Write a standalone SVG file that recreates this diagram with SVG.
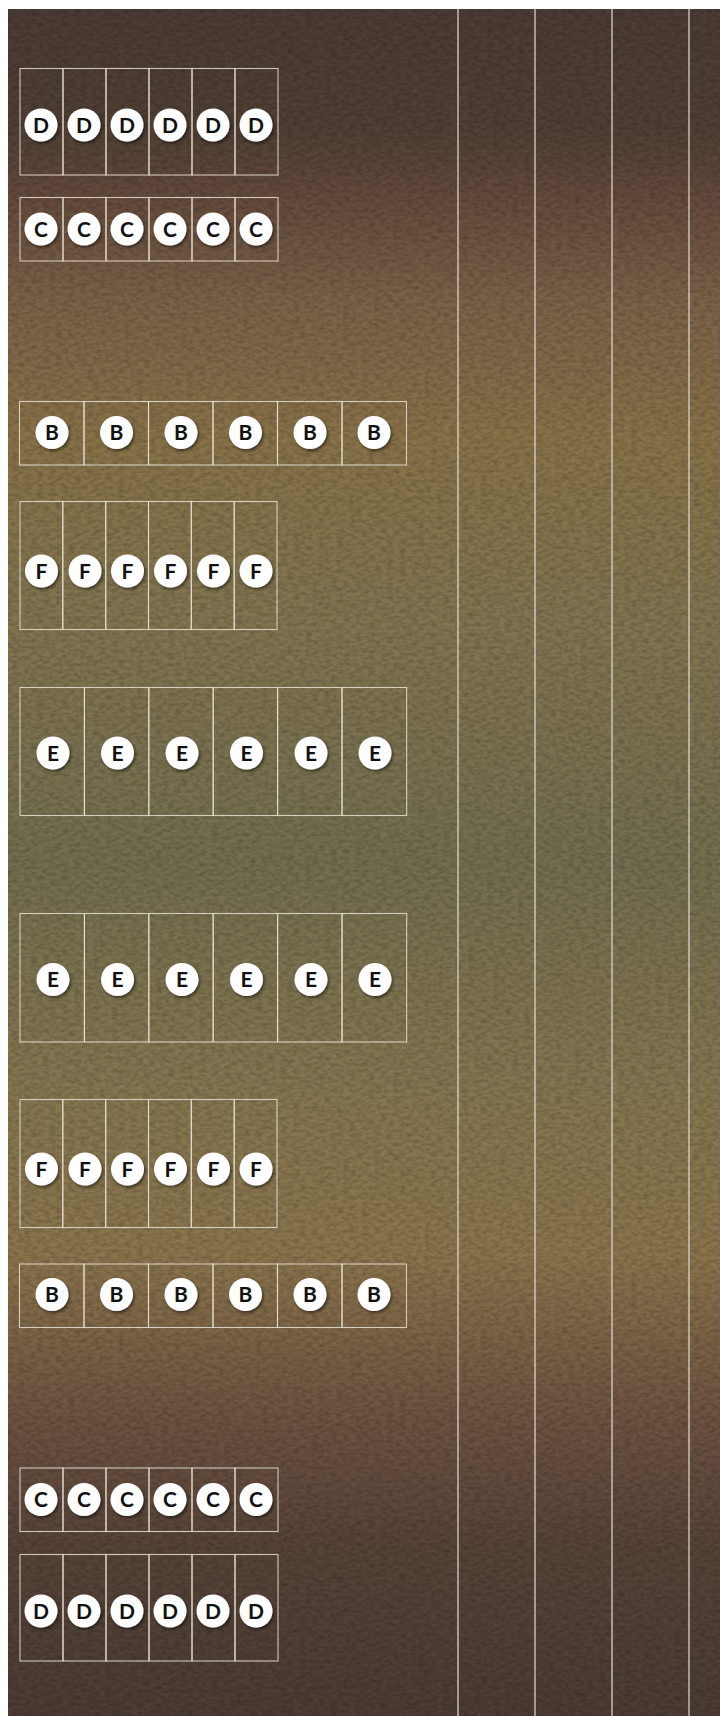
<svg xmlns="http://www.w3.org/2000/svg" width="727" height="1716" viewBox="0 0 727 1716">
<defs>
<linearGradient id="bg" x1="0" y1="9" x2="0" y2="1716" gradientUnits="userSpaceOnUse">
<stop offset="0" stop-color="#4a3c34"/>
<stop offset="0.07" stop-color="#503f35"/>
<stop offset="0.11" stop-color="#644a3b"/>
<stop offset="0.17" stop-color="#7b6148"/>
<stop offset="0.25" stop-color="#887248"/>
<stop offset="0.36" stop-color="#817450"/>
<stop offset="0.5" stop-color="#736e4f"/>
<stop offset="0.64" stop-color="#857650"/>
<stop offset="0.73" stop-color="#8a744c"/>
<stop offset="0.82" stop-color="#6f5441"/>
<stop offset="0.9" stop-color="#574338"/>
<stop offset="1" stop-color="#4a3c34"/>
</linearGradient>
<filter id="tex" x="0" y="0" width="1" height="1">
<feTurbulence type="fractalNoise" baseFrequency="0.16 0.3" numOctaves="2" seed="5"/>
<feColorMatrix type="matrix" values="0 0 0 0 0  0 0 0 0 0  0 0 0 0 0  0 0 0 -1.3 0.85"/>
</filter>
<filter id="sh" x="-50%" y="-50%" width="200%" height="200%">
<feDropShadow dx="1.5" dy="2" stdDeviation="1.5" flood-color="#000" flood-opacity="0.5"/>
</filter>
</defs>
<style>
.cell{fill:none;stroke:#e6e0d2;stroke-width:1.1;stroke-opacity:0.85}
.lane{stroke:#e2dcd6;stroke-width:1.2}
.dot{fill:#fff;filter:url(#sh)}
.lbl{font-family:"Lato","Liberation Sans",sans-serif;font-weight:700;font-size:21px;fill:#111;text-anchor:middle}
</style>
<rect x="8" y="9" width="712" height="1707" fill="url(#bg)"/>
<rect x="8" y="9" width="712" height="1707" filter="url(#tex)" opacity="0.28"/>
<g id="lanes">
<line class="lane" x1="458" y1="9" x2="458" y2="1716"/>
<line class="lane" x1="535" y1="9" x2="535" y2="1716"/>
<line class="lane" x1="612" y1="9" x2="612" y2="1716"/>
<line class="lane" x1="689" y1="9" x2="689" y2="1716"/>
</g>
<g id="connectors"/>
<g id="row-d-top">
<g id="d1"><rect class="cell" x="20" y="68.5" width="43" height="106.5"/><circle class="dot" cx="41" cy="125" r="16.5"/><text class="lbl" x="41" y="132.5">D</text></g>
<g id="d2"><rect class="cell" x="63" y="68.5" width="43" height="106.5"/><circle class="dot" cx="84" cy="125" r="16.5"/><text class="lbl" x="84" y="132.5">D</text></g>
<g id="d3"><rect class="cell" x="106" y="68.5" width="43" height="106.5"/><circle class="dot" cx="127" cy="125" r="16.5"/><text class="lbl" x="127" y="132.5">D</text></g>
<g id="d4"><rect class="cell" x="149" y="68.5" width="43" height="106.5"/><circle class="dot" cx="170" cy="125" r="16.5"/><text class="lbl" x="170" y="132.5">D</text></g>
<g id="d5"><rect class="cell" x="192" y="68.5" width="43" height="106.5"/><circle class="dot" cx="213" cy="125" r="16.5"/><text class="lbl" x="213" y="132.5">D</text></g>
<g id="d6"><rect class="cell" x="235" y="68.5" width="43" height="106.5"/><circle class="dot" cx="256" cy="125" r="16.5"/><text class="lbl" x="256" y="132.5">D</text></g>
</g>
<g id="row-c-top">
<g id="c1"><rect class="cell" x="20" y="197.5" width="43" height="63.5"/><circle class="dot" cx="41" cy="229" r="16.5"/><text class="lbl" x="41" y="236.5">C</text></g>
<g id="c2"><rect class="cell" x="63" y="197.5" width="43" height="63.5"/><circle class="dot" cx="84" cy="229" r="16.5"/><text class="lbl" x="84" y="236.5">C</text></g>
<g id="c3"><rect class="cell" x="106" y="197.5" width="43" height="63.5"/><circle class="dot" cx="127" cy="229" r="16.5"/><text class="lbl" x="127" y="236.5">C</text></g>
<g id="c4"><rect class="cell" x="149" y="197.5" width="43" height="63.5"/><circle class="dot" cx="170" cy="229" r="16.5"/><text class="lbl" x="170" y="236.5">C</text></g>
<g id="c5"><rect class="cell" x="192" y="197.5" width="43" height="63.5"/><circle class="dot" cx="213" cy="229" r="16.5"/><text class="lbl" x="213" y="236.5">C</text></g>
<g id="c6"><rect class="cell" x="235" y="197.5" width="43" height="63.5"/><circle class="dot" cx="256" cy="229" r="16.5"/><text class="lbl" x="256" y="236.5">C</text></g>
</g>
<g id="row-b-top">
<g id="b1"><rect class="cell" x="19.5" y="401.5" width="64.5" height="63.5"/><circle class="dot" cx="52" cy="432.5" r="16.5"/><text class="lbl" x="52" y="440">B</text></g>
<g id="b2"><rect class="cell" x="84" y="401.5" width="64.5" height="63.5"/><circle class="dot" cx="116.5" cy="432.5" r="16.5"/><text class="lbl" x="116.5" y="440">B</text></g>
<g id="b3"><rect class="cell" x="148.5" y="401.5" width="64.5" height="63.5"/><circle class="dot" cx="181" cy="432.5" r="16.5"/><text class="lbl" x="181" y="440">B</text></g>
<g id="b4"><rect class="cell" x="213" y="401.5" width="64.5" height="63.5"/><circle class="dot" cx="245.5" cy="432.5" r="16.5"/><text class="lbl" x="245.5" y="440">B</text></g>
<g id="b5"><rect class="cell" x="277.5" y="401.5" width="64.5" height="63.5"/><circle class="dot" cx="310" cy="432.5" r="16.5"/><text class="lbl" x="310" y="440">B</text></g>
<g id="b6"><rect class="cell" x="342" y="401.5" width="64.5" height="63.5"/><circle class="dot" cx="374" cy="432.5" r="16.5"/><text class="lbl" x="374" y="440">B</text></g>
</g>
<g id="row-f-top">
<g id="f1"><rect class="cell" x="20" y="501.5" width="42.8" height="128"/><circle class="dot" cx="41.5" cy="571" r="16.5"/><text class="lbl" x="41.5" y="578.5">F</text></g>
<g id="f2"><rect class="cell" x="62.8" y="501.5" width="42.9" height="128"/><circle class="dot" cx="85" cy="571" r="16.5"/><text class="lbl" x="85" y="578.5">F</text></g>
<g id="f3"><rect class="cell" x="105.7" y="501.5" width="42.8" height="128"/><circle class="dot" cx="127.5" cy="571" r="16.5"/><text class="lbl" x="127.5" y="578.5">F</text></g>
<g id="f4"><rect class="cell" x="148.5" y="501.5" width="42.8" height="128"/><circle class="dot" cx="170.5" cy="571" r="16.5"/><text class="lbl" x="170.5" y="578.5">F</text></g>
<g id="f5"><rect class="cell" x="191.3" y="501.5" width="42.9" height="128"/><circle class="dot" cx="213.5" cy="571" r="16.5"/><text class="lbl" x="213.5" y="578.5">F</text></g>
<g id="f6"><rect class="cell" x="234.2" y="501.5" width="42.8" height="128"/><circle class="dot" cx="256" cy="571" r="16.5"/><text class="lbl" x="256" y="578.5">F</text></g>
</g>
<g id="row-e-top">
<g id="e1"><rect class="cell" x="20" y="687.5" width="64.4" height="128"/><circle class="dot" cx="53" cy="753" r="16.5"/><text class="lbl" x="53" y="760.5">E</text></g>
<g id="e2"><rect class="cell" x="84.4" y="687.5" width="64.4" height="128"/><circle class="dot" cx="117.5" cy="753" r="16.5"/><text class="lbl" x="117.5" y="760.5">E</text></g>
<g id="e3"><rect class="cell" x="148.8" y="687.5" width="64.4" height="128"/><circle class="dot" cx="182" cy="753" r="16.5"/><text class="lbl" x="182" y="760.5">E</text></g>
<g id="e4"><rect class="cell" x="213.2" y="687.5" width="64.4" height="128"/><circle class="dot" cx="246.5" cy="753" r="16.5"/><text class="lbl" x="246.5" y="760.5">E</text></g>
<g id="e5"><rect class="cell" x="277.6" y="687.5" width="64.4" height="128"/><circle class="dot" cx="311" cy="753" r="16.5"/><text class="lbl" x="311" y="760.5">E</text></g>
<g id="e6"><rect class="cell" x="342" y="687.5" width="64.7" height="128"/><circle class="dot" cx="375" cy="753" r="16.5"/><text class="lbl" x="375" y="760.5">E</text></g>
</g>
<g id="row-e-bottom">
<g id="e7"><rect class="cell" x="20" y="913.5" width="64.4" height="128.5"/><circle class="dot" cx="53" cy="979.5" r="16.5"/><text class="lbl" x="53" y="987">E</text></g>
<g id="e8"><rect class="cell" x="84.4" y="913.5" width="64.4" height="128.5"/><circle class="dot" cx="117.5" cy="979.5" r="16.5"/><text class="lbl" x="117.5" y="987">E</text></g>
<g id="e9"><rect class="cell" x="148.8" y="913.5" width="64.4" height="128.5"/><circle class="dot" cx="182" cy="979.5" r="16.5"/><text class="lbl" x="182" y="987">E</text></g>
<g id="e10"><rect class="cell" x="213.2" y="913.5" width="64.4" height="128.5"/><circle class="dot" cx="246.5" cy="979.5" r="16.5"/><text class="lbl" x="246.5" y="987">E</text></g>
<g id="e11"><rect class="cell" x="277.6" y="913.5" width="64.4" height="128.5"/><circle class="dot" cx="311" cy="979.5" r="16.5"/><text class="lbl" x="311" y="987">E</text></g>
<g id="e12"><rect class="cell" x="342" y="913.5" width="64.7" height="128.5"/><circle class="dot" cx="375" cy="979.5" r="16.5"/><text class="lbl" x="375" y="987">E</text></g>
</g>
<g id="row-f-bottom">
<g id="f7"><rect class="cell" x="20" y="1099.5" width="42.8" height="128"/><circle class="dot" cx="41.5" cy="1169" r="16.5"/><text class="lbl" x="41.5" y="1176.5">F</text></g>
<g id="f8"><rect class="cell" x="62.8" y="1099.5" width="42.9" height="128"/><circle class="dot" cx="85" cy="1169" r="16.5"/><text class="lbl" x="85" y="1176.5">F</text></g>
<g id="f9"><rect class="cell" x="105.7" y="1099.5" width="42.8" height="128"/><circle class="dot" cx="127.5" cy="1169" r="16.5"/><text class="lbl" x="127.5" y="1176.5">F</text></g>
<g id="f10"><rect class="cell" x="148.5" y="1099.5" width="42.8" height="128"/><circle class="dot" cx="170.5" cy="1169" r="16.5"/><text class="lbl" x="170.5" y="1176.5">F</text></g>
<g id="f11"><rect class="cell" x="191.3" y="1099.5" width="42.9" height="128"/><circle class="dot" cx="213.5" cy="1169" r="16.5"/><text class="lbl" x="213.5" y="1176.5">F</text></g>
<g id="f12"><rect class="cell" x="234.2" y="1099.5" width="42.8" height="128"/><circle class="dot" cx="256" cy="1169" r="16.5"/><text class="lbl" x="256" y="1176.5">F</text></g>
</g>
<g id="row-b-bottom">
<g id="b7"><rect class="cell" x="19.5" y="1264" width="64.5" height="63.5"/><circle class="dot" cx="52" cy="1294.5" r="16.5"/><text class="lbl" x="52" y="1302">B</text></g>
<g id="b8"><rect class="cell" x="84" y="1264" width="64.5" height="63.5"/><circle class="dot" cx="116.5" cy="1294.5" r="16.5"/><text class="lbl" x="116.5" y="1302">B</text></g>
<g id="b9"><rect class="cell" x="148.5" y="1264" width="64.5" height="63.5"/><circle class="dot" cx="181" cy="1294.5" r="16.5"/><text class="lbl" x="181" y="1302">B</text></g>
<g id="b10"><rect class="cell" x="213" y="1264" width="64.5" height="63.5"/><circle class="dot" cx="245.5" cy="1294.5" r="16.5"/><text class="lbl" x="245.5" y="1302">B</text></g>
<g id="b11"><rect class="cell" x="277.5" y="1264" width="64.5" height="63.5"/><circle class="dot" cx="310" cy="1294.5" r="16.5"/><text class="lbl" x="310" y="1302">B</text></g>
<g id="b12"><rect class="cell" x="342" y="1264" width="64.5" height="63.5"/><circle class="dot" cx="374" cy="1294.5" r="16.5"/><text class="lbl" x="374" y="1302">B</text></g>
</g>
<g id="row-c-bottom">
<g id="c7"><rect class="cell" x="20" y="1468" width="43" height="63.5"/><circle class="dot" cx="41" cy="1499.5" r="16.5"/><text class="lbl" x="41" y="1507">C</text></g>
<g id="c8"><rect class="cell" x="63" y="1468" width="43" height="63.5"/><circle class="dot" cx="84" cy="1499.5" r="16.5"/><text class="lbl" x="84" y="1507">C</text></g>
<g id="c9"><rect class="cell" x="106" y="1468" width="43" height="63.5"/><circle class="dot" cx="127" cy="1499.5" r="16.5"/><text class="lbl" x="127" y="1507">C</text></g>
<g id="c10"><rect class="cell" x="149" y="1468" width="43" height="63.5"/><circle class="dot" cx="170" cy="1499.5" r="16.5"/><text class="lbl" x="170" y="1507">C</text></g>
<g id="c11"><rect class="cell" x="192" y="1468" width="43" height="63.5"/><circle class="dot" cx="213" cy="1499.5" r="16.5"/><text class="lbl" x="213" y="1507">C</text></g>
<g id="c12"><rect class="cell" x="235" y="1468" width="43" height="63.5"/><circle class="dot" cx="256" cy="1499.5" r="16.5"/><text class="lbl" x="256" y="1507">C</text></g>
</g>
<g id="row-d-bottom">
<g id="d7"><rect class="cell" x="20" y="1554.5" width="43" height="106.5"/><circle class="dot" cx="41" cy="1611" r="16.5"/><text class="lbl" x="41" y="1618.5">D</text></g>
<g id="d8"><rect class="cell" x="63" y="1554.5" width="43" height="106.5"/><circle class="dot" cx="84" cy="1611" r="16.5"/><text class="lbl" x="84" y="1618.5">D</text></g>
<g id="d9"><rect class="cell" x="106" y="1554.5" width="43" height="106.5"/><circle class="dot" cx="127" cy="1611" r="16.5"/><text class="lbl" x="127" y="1618.5">D</text></g>
<g id="d10"><rect class="cell" x="149" y="1554.5" width="43" height="106.5"/><circle class="dot" cx="170" cy="1611" r="16.5"/><text class="lbl" x="170" y="1618.5">D</text></g>
<g id="d11"><rect class="cell" x="192" y="1554.5" width="43" height="106.5"/><circle class="dot" cx="213" cy="1611" r="16.5"/><text class="lbl" x="213" y="1618.5">D</text></g>
<g id="d12"><rect class="cell" x="235" y="1554.5" width="43" height="106.5"/><circle class="dot" cx="256" cy="1611" r="16.5"/><text class="lbl" x="256" y="1618.5">D</text></g>
</g>
</svg>
